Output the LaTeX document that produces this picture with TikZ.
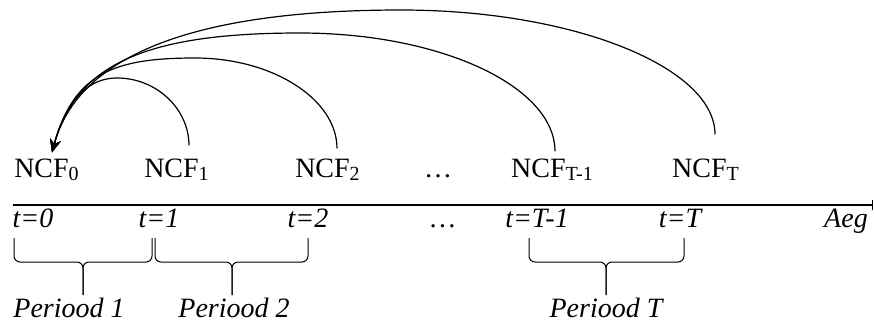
\documentclass[tikz,border=0pt]{standalone}
\usepackage{fontspec}
\setmainfont{Liberation Serif}
\usetikzlibrary{arrows.meta, positioning}

\newcommand{\cfsub}[1]{\raisebox{-1.5pt}{\fontsize{10}{10}\selectfont #1}}

\begin{document}
\begin{tikzpicture}[
    x=0.5pt, y=-0.5pt,
    cf/.style={anchor=base, font=\fontsize{14}{16}\selectfont},
    tlabel/.style={anchor=base, font=\fontsize{14}{16}\selectfont\itshape},
    arrow/.style={-{Stealth[length=6.5pt, width=5.5pt]}, line width=0.6pt},
    axis/.style={-{Bar[width=5pt]}, line width=0.6pt},
    brace/.style={line width=0.5pt, rounded corners=3pt},
  ]
  \useasboundingbox (0,0) rectangle (874,323);

  % Cash flows
  \node[cf] (ncf0) at (46.5,177) {NCF\cfsub{0}};
  \node[cf] (ncf1) at (176.5,177) {NCF\cfsub{1}};
  \node[cf] (ncf2) at (327.5,177) {NCF\cfsub{2}};
  \node[cf] (cfdots) at (438,177) {\dots};
  \node[cf] (ncfT1) at (552,177) {NCF\cfsub{T-1}};
  \node[cf] (ncfT) at (705.5,177) {NCF\cfsub{T}};

  % Discounting arcs
  \coordinate (tip) at ([xshift=2.75pt, yshift=-0.5pt]ncf0.north);
  \coordinate (top1) at (117,78);
  \coordinate (top2) at (195,58);
  \coordinate (topT1) at (300,33);
  \coordinate (topT) at (401,10);

  \draw[arrow] ([xshift=6.25pt, yshift=3pt]ncf1.north) .. controls +(0,-36) and +(40,0) .. (top1)
    .. controls +(-36,0) and +(11,-40) .. (tip);
  \draw[arrow] ([xshift=4.75pt, yshift=1.5pt]ncf2.north) .. controls +(0,-49) and +(78,0) .. (top2)
    .. controls +(-80,0) and +(22,-80) .. (tip);
  \draw[arrow] ([xshift=1.5pt]ncfT1.north) .. controls +(0,-65) and +(141,0) .. (topT1)
    .. controls +(-150,0) and +(24,-90) .. (tip);
  \draw[arrow] ([xshift=4.75pt, yshift=8.5pt]ncfT.north) .. controls +(0,-67) and +(173,0) .. (topT)
    .. controls +(-200,0) and +(27,-100) .. (tip);

  % Time axis
  \coordinate (start) at (13,205);
  \coordinate (stop) at (873,205);
  \draw[axis] (start) -- (stop);

  \node[tlabel] (t0) at (33,227) {t=0};
  \node[tlabel] (t1) at (159,227) {t=1};
  \node[tlabel] (t2) at (308,227) {t=2};
  \node[tlabel] (tdots) at (443,227) {\dots};
  \node[tlabel] (tT1) at (537,227) {t=T-1};
  \node[tlabel] (tT) at (680,227) {t=T};
  \node[tlabel] (aeg) at (846,227) {Aeg};

  % Periods
  \draw[brace] (14,238) -- (14,262) -- (83,262) -- (83,295);
  \draw[brace] (152,238) -- (152,262) -- (83,262) -- (83,295);
  \draw[brace] (155,238) -- (155,262) -- (232,262) -- (232,295);
  \draw[brace] (308,238) -- (308,262) -- (232,262) -- (232,295);
  \draw[brace] (529,238) -- (529,262) -- (606,262) -- (606,295);
  \draw[brace] (684,238) -- (684,262) -- (606,262) -- (606,295);

  \node[tlabel] (p1) at (69,317) {Periood 1};
  \node[tlabel] (p2) at (234,317) {Periood 2};
  \node[tlabel] (pT) at (606,317) {Periood T};

\end{tikzpicture}
\end{document}
